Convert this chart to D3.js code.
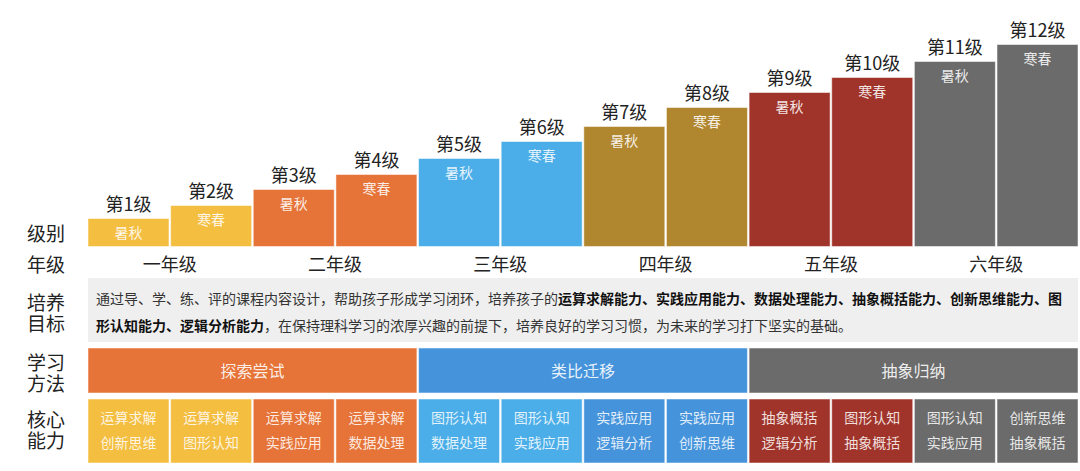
<!DOCTYPE html>
<html>
<head>
<meta charset="utf-8">
<script src="https://cdn.jsdelivr.net/npm/d3@7"></script>
<style>
  html, body { margin: 0; padding: 0; background: #fff; }
  svg { display: block; font-family: "Noto Sans CJK SC", "Noto Sans", sans-serif; }
</style>
</head>
<body>
<svg id="chart" width="1080" height="471"></svg>
<script>
// ---------- data ----------
const levels = ["第1级","第2级","第3级","第4级","第5级","第6级","第7级","第8级","第9级","第10级","第11级","第12级"];
const terms = ["暑秋","寒春","暑秋","寒春","暑秋","寒春","暑秋","寒春","暑秋","寒春","暑秋","寒春"];
const levelHeights = [28, 41, 57, 72, 88, 105, 120, 139, 154, 169, 185, 202];
const grades = ["一年级","二年级","三年级","四年级","五年级","六年级"];
const methods = ["探索尝试","类比迁移","抽象归纳"];
const abilitiesTop = ["运算求解","运算求解","运算求解","运算求解","图形认知","图形认知","实践应用","实践应用","抽象概括","图形认知","图形认知","创新思维"];
const abilitiesBottom = ["创新思维","图形认知","实践应用","数据处理","数据处理","实践应用","逻辑分析","创新思维","逻辑分析","抽象概括","实践应用","抽象概括"];
const rowLabels = [["级别"],["年级"],["培养","目标"],["学习","方法"],["核心","能力"]];
const goalLine1 = [["通过导、学、练、评的课程内容设计，帮助孩子形成学习闭环，培养孩子的", false],["运算求解能力、实践应用能力、数据处理能力、抽象概括能力、创新思维能力、图", true]];
const goalLine2 = [["形认知能力、逻辑分析能力", true],["，在保持理科学习的浓厚兴趣的前提下，培养良好的学习习惯，为未来的学习打下坚实的基础。", false]];

// ---------- styles ----------
const barColors = ["#F4BE41","#F4BE41","#E67337","#E67337","#4BAEE8","#4BAEE8","#B0862E","#B0862E","#A1342A","#A1342A","#6B6B6B","#6B6B6B"];
const cellColors = ["#F4BE41","#F4BE41","#E67337","#E67337","#4BAEE8","#4BAEE8","#4594DB","#4594DB","#A1342A","#A1342A","#6B6B6B","#6B6B6B"];
const methodColors = ["#E67337","#4594DB","#6B6B6B"];

const svg = d3.select("#chart");
const idx = d3.range(levels.length);

const x = d3.scaleBand().domain(idx).range([88, 1078]).paddingInner(0.02).paddingOuter(0);
const y = d3.scaleLinear().domain([0, 202]).range([246.5, 44.5]);
const bw = x.bandwidth();

// bars
const bars = svg.append("g");
bars.selectAll("rect").data(idx).join("rect")
  .attr("x", i => x(i)).attr("y", i => y(levelHeights[i]))
  .attr("width", bw).attr("height", i => y(0) - y(levelHeights[i]))
  .attr("fill", i => barColors[i])
  .attr("stroke", "rgba(255,255,255,0.5)").attr("stroke-width", 1);

bars.selectAll("text.lvl").data(idx).join("text").attr("class","lvl")
  .attr("x", i => x(i) + bw / 2).attr("y", i => y(levelHeights[i]) - 8)
  .attr("text-anchor", "middle").attr("font-size", 18).attr("fill", "#222")
  .text(i => levels[i]);

bars.selectAll("text.term").data(idx).join("text").attr("class","term")
  .attr("x", i => x(i) + bw / 2).attr("y", i => y(levelHeights[i]) + 19)
  .attr("text-anchor", "middle").attr("font-size", 14).attr("fill", "rgba(255,255,255,0.88)")
  .text(i => terms[i]);

// row labels (multi-line labels as one text with tspans)
const rowY = [241, 272, 310, 370, 427];
rowLabels.forEach((lines, r) => {
  const t = svg.append("text").attr("x", 27).attr("y", rowY[r])
    .attr("font-size", 19).attr("fill", "#222");
  lines.forEach((s, k) => {
    t.append("tspan").attr("x", 27).attr("dy", k === 0 ? 0 : 21).text(s);
  });
});

// grades
svg.append("g").selectAll("text").data(grades).join("text")
  .attr("x", (g, j) => (x(2 * j) + x(2 * j + 1) + bw) / 2)
  .attr("y", 271).attr("text-anchor", "middle").attr("font-size", 18).attr("fill", "#222")
  .text(g => g);

// goal box
svg.append("rect").attr("x", 88).attr("y", 278).attr("width", 990).attr("height", 64).attr("fill", "#EFEFEF");
function writeLine(parts, yy) {
  const t = svg.append("text").attr("x", 96).attr("y", yy).attr("font-size", 14);
  parts.forEach(([s, b]) => {
    t.append("tspan").text(s).attr("font-weight", b ? "bold" : "normal").attr("fill", b ? "#111" : "#333");
  });
}
writeLine(goalLine1, 304);
writeLine(goalLine2, 331);

// methods
const mg = svg.append("g");
mg.selectAll("rect").data(methods).join("rect")
  .attr("x", (m, j) => x(4 * j)).attr("y", 348)
  .attr("width", (m, j) => x(4 * j + 3) + bw - x(4 * j)).attr("height", 45)
  .attr("fill", (m, j) => methodColors[j])
  .attr("stroke", "rgba(255,255,255,0.5)").attr("stroke-width", 1);
mg.selectAll("text").data(methods).join("text")
  .attr("x", (m, j) => (x(4 * j) + x(4 * j + 3) + bw) / 2).attr("y", 377)
  .attr("text-anchor", "middle").attr("font-size", 16).attr("fill", "rgba(255,255,255,0.9)")
  .text(m => m);

// core abilities
const cg = svg.append("g");
cg.selectAll("rect").data(idx).join("rect")
  .attr("x", i => x(i)).attr("y", 399).attr("width", bw).attr("height", 64)
  .attr("fill", i => cellColors[i])
  .attr("stroke", "rgba(255,255,255,0.5)").attr("stroke-width", 1);
cg.selectAll("text.a1").data(idx).join("text").attr("class","a1")
  .attr("x", i => x(i) + bw / 2).attr("y", 423)
  .attr("text-anchor", "middle").attr("font-size", 14).attr("fill", "rgba(255,255,255,0.85)")
  .text(i => abilitiesTop[i]);
cg.selectAll("text.a2").data(idx).join("text").attr("class","a2")
  .attr("x", i => x(i) + bw / 2).attr("y", 448)
  .attr("text-anchor", "middle").attr("font-size", 14).attr("fill", "rgba(255,255,255,0.85)")
  .text(i => abilitiesBottom[i]);
</script>
</body>
</html>
